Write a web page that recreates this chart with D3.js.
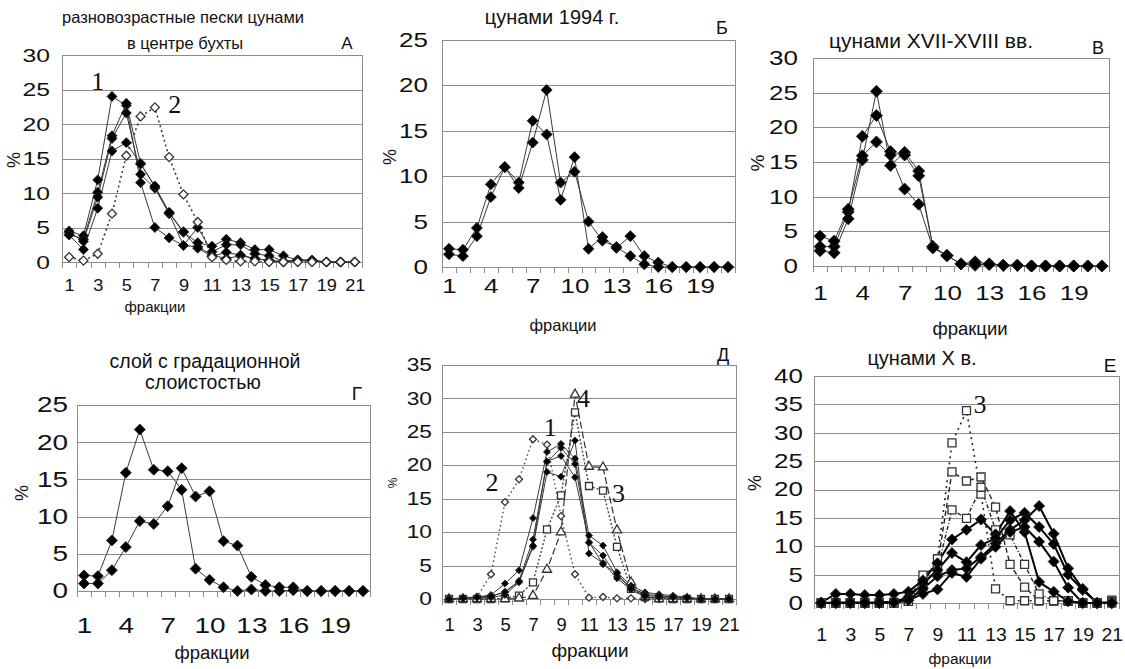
<!DOCTYPE html>
<html>
<head>
<meta charset="utf-8">
<script src="https://d3js.org/d3.v7.min.js"></script>
<style>
  body { margin: 0; background: #fff; }
  svg { font-family: "Liberation Sans", Arial, sans-serif; }
  .axis .domain, .axis line { stroke: #8c8c8c; shape-rendering: crispEdges; }
  .axis text { fill: #111; font-family: "Liberation Sans", Arial, sans-serif; }
  .frame { stroke: #8c8c8c; shape-rendering: crispEdges; }
  .tag { font-family: "Liberation Serif", "Times New Roman", serif; fill: #111; }
</style>
</head>
<body>
<script>
var fractions = d3.range(1, 22);
var oddTicks = d3.range(1, 22, 2);
var thirdTicks = [1, 4, 7, 10, 13, 16, 19];

// А: разновозрастные пески цунами в центре бухты
var aS1 = [4.5, 3.8, 11.9, 24.0, 22.7, 11.5, 5.0, 3.5, 2.4, 2.2, 1.0, 0.5, 0.9, 0.5, 0.2, 0.1, 0.2, 0.2, 0, 0, 0];
var aS2 = [4.0, 3.3, 10.1, 18.3, 23.0, 14.3, 10.9, 7.1, 4.3, 2.8, 2.3, 3.3, 2.8, 1.8, 1.8, 0.9, 0.3, 0.3, 0, 0, 0];
var aS3 = [4.3, 3.0, 9.4, 17.9, 21.6, 12.7, 10.7, 7.0, 2.4, 5.0, 1.5, 2.5, 2.5, 1.2, 0.9, 0.1, 0.3, 0.2, 0, 0, 0];
var aS4 = [3.9, 1.8, 7.8, 16.1, 17.3, 14.2, 11.0, 7.2, 4.4, 2.0, 0.8, 1.4, 1.0, 0.5, 0.2, 0, 0.2, 0.2, 0, 0, 0];
var aOpen = [0.7, 0.2, 1.2, 7.0, 15.4, 21.1, 22.4, 15.2, 9.8, 5.8, 0.7, 0.3, 0.1, 0.1, 0, 0, 0, 0, 0, 0, 0];

// Б: цунами 1994 г.
var bS1 = [2.0, 1.9, 4.3, 9.1, 11.0, 9.3, 16.1, 14.6, 7.4, 12.1, 2.0, 3.3, 2.1, 3.4, 1.2, 0.5, 0, 0, 0, 0, 0];
var bS2 = [1.4, 1.2, 3.4, 7.7, 11.0, 8.7, 13.7, 19.5, 9.3, 10.5, 5.0, 2.9, 2.2, 1.2, 0.3, 0, 0, 0, 0, 0, 0];

// В: цунами XVII-XVIII вв.
var vS1 = [2.2, 1.9, 6.8, 15.3, 25.2, 14.5, 16.4, 13.7, 2.8, 1.5, 0.3, 0.6, 0.3, 0.1, 0.1, 0, 0, 0, 0, 0, 0];
var vS2 = [2.8, 2.8, 7.8, 18.7, 21.7, 16.5, 16.0, 13.0, 2.8, 1.5, 0.3, 0.1, 0.3, 0.1, 0.1, 0, 0, 0, 0, 0, 0];
var vS3 = [4.3, 3.6, 8.2, 15.9, 17.9, 16.0, 11.1, 8.9, 2.6, 1.5, 0.3, 0.3, 0.2, 0.1, 0.1, 0, 0, 0, 0, 0, 0];

// Г: слой с градационной слоистостью
var gS1 = [2.1, 2.0, 6.8, 15.9, 21.7, 16.3, 16.1, 13.6, 3.0, 1.5, 0.5, 0, 0.2, 0, 0, 0.1, 0, 0, 0, 0, 0];
var gS2 = [1.0, 1.0, 2.8, 5.9, 9.4, 9.0, 11.4, 16.5, 12.7, 13.4, 6.7, 6.1, 1.9, 0.8, 0.5, 0.5, 0, 0, 0, 0, 0];

// Д
var dF1 = [0, 0.2, 0.3, 0.6, 2.3, 4.3, 12.1, 22.0, 23.2, 21.0, 9.5, 8.0, 4.0, 2.0, 1.0, 0.7, 0.5, 0.3, 0, 0, 0];
var dF2 = [0, 0.1, 0.3, 0.4, 1.1, 2.7, 8.9, 20.5, 22.6, 20.2, 8.4, 6.5, 3.4, 1.7, 0.7, 0.5, 0.3, 0.2, 0, 0, 0];
var dF3 = [0, 0.1, 0.2, 0.2, 0.6, 2.5, 7.8, 19.0, 18.3, 23.7, 6.8, 5.4, 3.1, 1.4, 0.3, 0.2, 0.2, 0.1, 0, 0, 0];
var dF4 = [0, 0.1, 0.2, 0.4, 1.0, 2.6, 8.0, 20.6, 21.4, 18.2, 8.5, 5.2, 3.8, 1.6, 0.5, 0.4, 0.3, 0.2, 0, 0, 0];
var dDiam = [0, 0, 0.3, 3.7, 14.5, 17.9, 23.9, 23.1, 12.4, 3.7, 0.2, 0.3, 0.1, 0.1, 0, 0, 0, 0, 0, 0, 0];
var dSq = [0, 0, 0, 0, 0.1, 0.5, 2.5, 10.4, 15.5, 27.9, 16.9, 16.2, 7.8, 1.5, 0.3, 0.1, 0, 0, 0, 0, 0];
var dTri = [0, 0, 0, 0, 0, 0.1, 0.5, 4.4, 10.0, 30.6, 19.8, 19.7, 10.3, 2.5, 0.3, 0, 0, 0, 0, 0, 0];

// Е: цунами X в.
var eF1 = [0.1, 1.6, 1.6, 1.4, 1.4, 1.6, 2.0, 4.0, 7.0, 11.2, 12.9, 14.7, 12.1, 16.2, 12.5, 3.7, 2.0, 0.3, 0, 0, 0];
var eF2 = [0, 0.1, 0.1, 0.1, 0.1, 0.2, 1.0, 3.5, 5.8, 8.8, 7.2, 10.2, 11.4, 14.6, 15.9, 13.4, 10.4, 5.0, 2.3, 0, 0];
var eF3 = [0, 0, 0, 0, 0, 0.2, 0.5, 2.5, 4.7, 5.8, 6.1, 8.1, 10.5, 12.9, 14.6, 17.1, 12.2, 6.1, 2.5, 0, 0];
var eF4 = [0, 0, 0, 0, 0, 0.1, 0.5, 1.6, 2.4, 5.3, 4.6, 7.8, 9.9, 12.5, 13.4, 10.8, 7.3, 2.7, 0, 0, 0];
var eQ1 = [0, 0, 0, 0, 0, 0, 0.3, 3.5, 7.8, 28.2, 33.9, 19.2, 2.5, 0.4, 0.4, 0.4, 0.4, 0.4, 0, 0, 0.5];
var eQ2 = [0, 0, 0, 0, 0, 0.1, 0.5, 4.9, 6.6, 23.1, 21.5, 22.2, 16.9, 6.8, 2.8, 0.4, 0.4, 0.3, 0, 0, 0.3];
var eQ3 = [0, 0, 0, 0, 0, 0, 0.3, 3.0, 6.0, 16.4, 14.9, 20.4, 12.9, 12.0, 6.8, 1.6, 0.4, 0.4, 0, 0, 0];

var svg = d3.select("body").append("svg")
  .attr("width", 1125)
  .attr("height", 669);

var thin = {stroke: "#3a3a3a", width: 1, dash: null};
var yStretch = 1.3; // the scanned tick numbers are wide

var panels = [
  {x0: 62, x1: 362, y0: 55, y1: 262, ymax: 30, xticks: oddTicks, yFont: 19, yPad: 12, xFont: 16.5, xPad: 17, xs: 1.1,
   titles: [{t: "разновозрастные пески цунами", x: 183, y: 17, s: 16.5}, {t: "в центре бухты", x: 185, y: 43, s: 16.5}],
   letter: {t: "А", x: 347, y: 43, s: 17}, pct: {x: 14, y: 160, s: 18}, xt: {x: 155, y: 306, s: 15},
   series: [
     {d: aS1, m: "diamond", w: 10, line: thin},
     {d: aS2, m: "diamond", w: 10, line: thin},
     {d: aS3, m: "diamond", w: 10, line: thin},
     {d: aS4, m: "diamond", w: 10, line: thin},
     {d: aOpen, m: "diamond", w: 9, open: true, line: {stroke: "#333", width: 1.5, dash: "2,3"}}
   ],
   tags: [{t: "1", c: 3.0, v: 26.1, s: 26}, {t: "2", c: 8.4, v: 22.8, s: 26}]},
  {x0: 442, x1: 735, y0: 40, y1: 267, ymax: 25, xticks: thirdTicks, yFont: 20, yPad: 14, xFont: 20, xPad: 12, xs: 1.3,
   titles: [{t: "цунами 1994 г.", x: 552, y: 17, s: 20}],
   letter: {t: "Б", x: 722, y: 28, s: 18}, pct: {x: 390, y: 157, s: 18}, xt: {x: 563, y: 325, s: 16.5},
   series: [
     {d: bS1, m: "diamond", w: 11, line: thin},
     {d: bS2, m: "diamond", w: 11, line: thin}
   ], tags: []},
  {x0: 813, x1: 1109, y0: 58, y1: 266, ymax: 30, xticks: thirdTicks, yFont: 20, yPad: 15, xFont: 20, xPad: 20, xs: 1.3,
   titles: [{t: "цунами XVII-XVIII вв.", x: 931, y: 40, s: 21}],
   letter: {t: "В", x: 1098, y: 48, s: 18}, pct: {x: 757, y: 163, s: 19}, xt: {x: 970, y: 328, s: 18.5},
   series: [
     {d: vS1, m: "diamond", w: 12, line: thin},
     {d: vS2, m: "diamond", w: 12, line: thin},
     {d: vS3, m: "diamond", w: 12, line: thin}
   ], tags: []},
  {x0: 77, x1: 370, y0: 405, y1: 591, ymax: 25, xticks: thirdTicks, yFont: 21.5, yPad: 9, xFont: 21.5, xPad: 27, xs: 1.3,
   titles: [{t: "слой с градационной", x: 205, y: 361, s: 19.5}, {t: "слоистостью", x: 203, y: 382, s: 19.5}],
   letter: {t: "Г", x: 357, y: 393, s: 19}, pct: {x: 22, y: 493, s: 18}, xt: {x: 212, y: 652, s: 18.5},
   series: [
     {d: gS1, m: "diamond", w: 11, line: thin},
     {d: gS2, m: "diamond", w: 11, line: thin}
   ], tags: []},
  {x0: 442, x1: 736, y0: 365, y1: 599, ymax: 35, xticks: oddTicks, yFont: 17.5, yPad: 10, xFont: 17.5, xPad: 20, xs: 1.05,
   titles: [],
   letter: {t: "Д", x: 723, y: 355, s: 18}, pct: {x: 393, y: 483, s: 12}, xt: {x: 590, y: 650, s: 19},
   series: [
     {d: dDiam, m: "diamond", w: 7, open: true, line: {stroke: "#444", width: 1.4, dash: "1.5,3"}},
     {d: dSq, m: "square", w: 7, open: true, line: {stroke: "#444", width: 1.4, dash: "2,2"}},
     {d: dTri, m: "triangle", w: 9, open: true, line: {stroke: "#333", width: 1.2, dash: "7,3"}},
     {d: dF1, m: "diamond", w: 7, line: thin},
     {d: dF2, m: "diamond", w: 7, line: thin},
     {d: dF3, m: "diamond", w: 7, line: thin},
     {d: dF4, m: "diamond", w: 7, line: thin}
   ],
   tags: [{t: "1", c: 8.24, v: 25.7, s: 26}, {t: "2", c: 4.08, v: 17.5, s: 26},
          {t: "3", c: 13.1, v: 15.8, s: 26}, {t: "4", c: 10.6, v: 30.0, s: 26}]},
  {x0: 814, x1: 1119, y0: 376, y1: 603, ymax: 40, xticks: oddTicks, yFont: 20, yPad: 11, xFont: 18.5, xPad: 25, xs: 1.05,
   titles: [{t: "цунами X в.", x: 922, y: 358, s: 20}],
   letter: {t: "Е", x: 1110, y: 365, s: 19}, pct: {x: 755, y: 483, s: 18}, xt: {x: 960, y: 658, s: 15.5},
   series: [
     {d: eQ1, m: "square", w: 8, open: true, line: {stroke: "#222", width: 1.6, dash: "2,4"}},
     {d: eQ2, m: "square", w: 8, open: true, line: {stroke: "#222", width: 1.4, dash: "5,3"}},
     {d: eQ3, m: "square", w: 8, open: true, line: {stroke: "#222", width: 1.4, dash: "4,2,1,2"}},
     {d: eF1, m: "diamond", w: 11, line: {stroke: "#000", width: 2, dash: null}},
     {d: eF2, m: "diamond", w: 11, line: {stroke: "#000", width: 2, dash: null}},
     {d: eF3, m: "diamond", w: 11, line: {stroke: "#000", width: 2, dash: null}},
     {d: eF4, m: "diamond", w: 11, line: {stroke: "#000", width: 2, dash: null}}
   ],
   tags: [{t: "3", c: 11.93, v: 34.9, s: 26}]}
];

function markerPath(m, w) {
  if (m === "diamond") return d3.symbol(d3.symbolSquare, w * w / 2)();
  if (m === "square") return d3.symbol(d3.symbolSquare, w * w)();
  return d3.symbol(d3.symbolTriangle, w * w * 0.45)();
}

panels.forEach(function (p) {
  var g = svg.append("g");
  var x = d3.scaleLinear().domain([0.5, 21.5]).range([p.x0, p.x1]);
  var y = d3.scaleLinear().domain([0, p.ymax]).range([p.y1, p.y0]);

  // horizontal grid + y labels
  var ya = g.append("g")
    .attr("class", "axis")
    .attr("transform", "translate(" + p.x0 + ",0)")
    .call(d3.axisLeft(y).tickValues(d3.range(0, p.ymax + 1, 5))
      .tickSize(-(p.x1 - p.x0)).tickSizeOuter(0).tickPadding(p.yPad / yStretch));
  ya.selectAll("text")
    .style("font-size", p.yFont + "px")
    .attr("transform", "scale(" + yStretch + ",1)");

  // right frame
  g.append("line").attr("class", "frame")
    .attr("x1", p.x1).attr("x2", p.x1).attr("y1", y(p.ymax)).attr("y2", y(0));

  // category boundary ticks
  g.append("g")
    .attr("class", "axis")
    .attr("transform", "translate(0," + p.y1 + ")")
    .call(d3.axisBottom(x).tickValues(d3.range(0.5, 21.6, 1)).tickSize(6).tickSizeOuter(0).tickFormat(""));

  // x labels
  var xa = g.append("g")
    .attr("class", "axis")
    .attr("transform", "translate(0," + p.y1 + ")")
    .call(d3.axisBottom(x).tickValues(p.xticks).tickSize(0).tickPadding(p.xPad).tickFormat(d3.format("d")));
  xa.select(".domain").remove();
  xa.selectAll("text")
    .style("font-size", p.xFont + "px")
    .attr("transform", "scale(" + p.xs + ",1)");

  var line = d3.line()
    .x(function (d, i) { return x(fractions[i]); })
    .y(function (d) { return y(d); });

  p.series.forEach(function (s) {
    g.append("path")
      .attr("d", line(s.d))
      .attr("fill", "none")
      .attr("stroke", s.line.stroke)
      .attr("stroke-width", s.line.width)
      .attr("stroke-dasharray", s.line.dash);
  });

  p.series.forEach(function (s) {
    g.append("g").selectAll("path")
      .data(s.d)
      .join("path")
      .attr("d", markerPath(s.m, s.w))
      .attr("transform", function (d, i) {
        return "translate(" + x(fractions[i]) + "," + y(d) + ")" + (s.m === "diamond" ? " rotate(45)" : "");
      })
      .attr("fill", s.open ? "#fff" : "#000")
      .attr("stroke", s.open ? "#333" : "#222")
      .attr("stroke-width", s.open ? 1.3 : 0.8);
  });

  p.tags.forEach(function (t) {
    g.append("text").attr("class", "tag")
      .attr("x", x(t.c)).attr("y", y(t.v))
      .attr("text-anchor", "middle").attr("dominant-baseline", "central")
      .style("font-size", t.s + "px")
      .text(t.t);
  });

  p.titles.forEach(function (t) {
    g.append("text").attr("x", t.x).attr("y", t.y)
      .attr("text-anchor", "middle").attr("dominant-baseline", "central")
      .style("font-size", t.s + "px").attr("fill", "#111")
      .text(t.t);
  });

  g.append("text").attr("x", p.letter.x).attr("y", p.letter.y)
    .attr("text-anchor", "middle").attr("dominant-baseline", "central")
    .style("font-size", p.letter.s + "px").attr("fill", "#111")
    .text(p.letter.t);

  g.append("text")
    .attr("transform", "translate(" + p.pct.x + "," + p.pct.y + ") rotate(-90)")
    .attr("text-anchor", "middle").attr("dominant-baseline", "central")
    .style("font-size", p.pct.s + "px").attr("fill", "#111")
    .text("%");

  g.append("text").attr("x", p.xt.x).attr("y", p.xt.y)
    .attr("text-anchor", "middle").attr("dominant-baseline", "central")
    .style("font-size", p.xt.s + "px").attr("fill", "#111")
    .text("фракции");
});
</script>
</body>
</html>
